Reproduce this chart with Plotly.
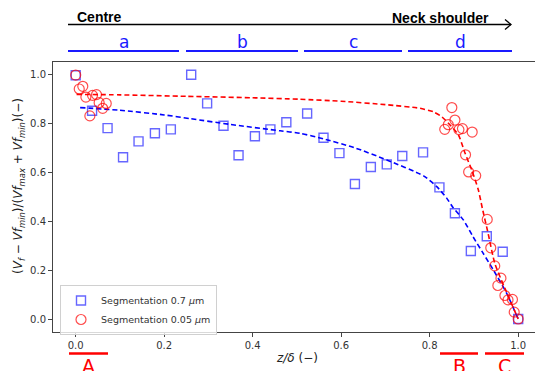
import plotly.graph_objects as go

# Normalised fibre volume fraction along the specimen, two segmentation resolutions
z_coarse = [0.0, 0.037, 0.072, 0.107, 0.142, 0.179, 0.215, 0.261, 0.297, 0.334,
            0.368, 0.405, 0.44, 0.476, 0.523, 0.56, 0.596, 0.631, 0.667, 0.703,
            0.738, 0.785, 0.822, 0.857, 0.893, 0.929, 0.965, 1.0]
vf_coarse = [0.996, 0.851, 0.78, 0.661, 0.726, 0.759, 0.775, 0.998, 0.881, 0.79,
             0.669, 0.747, 0.775, 0.804, 0.84, 0.741, 0.678, 0.552, 0.621, 0.632,
             0.666, 0.681, 0.538, 0.432, 0.278, 0.338, 0.275, 0.0]

z_fine = [0.0, 0.008, 0.016, 0.023, 0.032, 0.038, 0.047, 0.053, 0.061, 0.069,
          0.834, 0.842, 0.85, 0.857, 0.866, 0.874, 0.881, 0.888, 0.896, 0.904,
          0.93, 0.938, 0.947, 0.954, 0.961, 0.97, 0.977, 0.987, 0.991, 1.0]
vf_fine = [0.997, 0.94, 0.951, 0.907, 0.83, 0.914, 0.917, 0.884, 0.861, 0.881,
           0.775, 0.794, 0.864, 0.813, 0.774, 0.778, 0.671, 0.601, 0.764, 0.586,
           0.407, 0.291, 0.217, 0.137, 0.167, 0.096, 0.078, 0.08, 0.028, 0.0]

# Fitted trend curves
z_fit_coarse = [0.01, 0.1, 0.2, 0.258, 0.35, 0.462, 0.507, 0.56, 0.63, 0.703,
                0.786, 0.816, 0.838, 0.853, 0.876, 0.898, 0.921, 0.944, 0.974, 1.0]
vf_fit_coarse = [0.864, 0.853, 0.834, 0.819, 0.795, 0.769, 0.759, 0.736, 0.70, 0.65,
                 0.585, 0.541, 0.495, 0.455, 0.405, 0.336, 0.268, 0.2, 0.105, 0.0]

z_fit_fine = [0.002, 0.1, 0.25, 0.4, 0.507, 0.6, 0.7, 0.778, 0.808, 0.827, 0.846,
              0.865, 0.88, 0.895, 0.91, 0.919, 0.932, 0.947, 0.97, 1.0]
vf_fit_fine = [0.918, 0.916, 0.91, 0.904, 0.898, 0.89, 0.876, 0.861, 0.847, 0.827, 0.793,
               0.752, 0.677, 0.609, 0.527, 0.452, 0.35, 0.228, 0.125, 0.0]

x_ticks = [0.0, 0.2, 0.4, 0.6, 0.8, 1.0]
y_ticks = [0.0, 0.2, 0.4, 0.6, 0.8, 1.0]

W, H = 535, 371
ML, MR, MT, MB = 53, 0, 62, 39
PW, PH = W - ML - MR, H - MT - MB


def px(xp):
    return (xp - ML) / PW


def py(yp):
    return (H - MB - yp) / PH


fig = go.Figure()

fig.add_trace(go.Scatter(x=z_fit_coarse, y=vf_fit_coarse, mode="lines", showlegend=False,
                         line=dict(color="#0000ff", width=1.6, dash="5px,3px", shape="spline",
                                   smoothing=0.6)))
fig.add_trace(go.Scatter(x=z_fit_fine, y=vf_fit_fine, mode="lines", showlegend=False,
                         line=dict(color="#ff0000", width=1.6, dash="5px,3px", shape="spline",
                                   smoothing=0.6)))
fig.add_trace(go.Scatter(x=z_coarse, y=vf_coarse, mode="markers",
                         name="Segmentation 0.7 <i>μ</i>m",
                         marker=dict(symbol="square-open", size=9,
                                     color="rgba(0,0,255,0.6)", line=dict(width=1.4))))
fig.add_trace(go.Scatter(x=z_fine, y=vf_fine, mode="markers",
                         name="Segmentation 0.05 <i>μ</i>m",
                         marker=dict(symbol="circle-open", size=10,
                                     color="rgba(255,0,0,0.7)", line=dict(width=1.2))))

shapes = []
annotations = []

# Centre -> neck shoulder arrow
shapes.append(dict(type="line", xref="paper", yref="paper",
                   x0=px(68), x1=px(511), y0=py(24.5), y1=py(24.5),
                   line=dict(color="black", width=1.4)))
shapes.append(dict(type="path", xref="paper", yref="paper",
                   path=f"M {px(505)},{py(19.5)} L {px(511)},{py(24.5)} L {px(505)},{py(29.5)}",
                   line=dict(color="black", width=1.3)))
annotations.append(dict(text="<b>Centre</b>", x=px(75), y=py(17), xref="paper", yref="paper",
                        xanchor="left", yanchor="middle", showarrow=False,
                        font=dict(family="Liberation Sans", size=14, color="black")))
annotations.append(dict(text="<b>Neck shoulder</b>", x=px(491), y=py(17.5), xref="paper",
                        yref="paper", xanchor="right", yanchor="middle", showarrow=False,
                        font=dict(family="Liberation Sans", size=14, color="black")))

# Zones a-d
zones = [("a", 68, 179), ("b", 186, 298), ("c", 304, 402), ("d", 408, 512)]
for lab, x0, x1 in zones:
    shapes.append(dict(type="line", xref="paper", yref="paper", x0=px(x0), x1=px(x1),
                       y0=py(51), y1=py(51), line=dict(color="#1a1aff", width=2)))
    annotations.append(dict(text=lab, x=px((x0 + x1) / 2), y=py(42), xref="paper", yref="paper",
                            xanchor="center", yanchor="middle", showarrow=False,
                            font=dict(family="DejaVu Sans", size=17, color="#1a1aff")))

# Regions A-C (labels run off the lower edge of the page)
regions = [("A", 69, 108), ("B", 440, 478), ("C", 485, 524)]
for lab, x0, x1 in regions:
    shapes.append(dict(type="line", xref="paper", yref="paper", x0=px(x0), x1=px(x1),
                       y0=py(353.5), y1=py(353.5), line=dict(color="#ff0000", width=2.5)))
    annotations.append(dict(text=lab, x=px((x0 + x1) / 2), y=py(353), xref="paper", yref="paper",
                            xanchor="center", yanchor="top", showarrow=False,
                            font=dict(family="DejaVu Sans", size=19, color="#ff0000")))

# Axis titles
annotations.append(dict(text="<i>z/δ</i> (−)", x=px(297), y=py(358), xref="paper", yref="paper",
                        xanchor="center", yanchor="middle", showarrow=False,
                        font=dict(family="DejaVu Sans", size=12, color="#222")))
annotations.append(dict(
    text="(<i>V<sub>f</sub></i> − <i>Vf<sub>min</sub></i>)/(<i>Vf<sub>max</sub></i> + "
         "<i>Vf<sub>min</sub></i>)(−)",
    x=px(19), y=py(186), xref="paper", yref="paper", xanchor="center", yanchor="middle",
    textangle=-90, showarrow=False, font=dict(family="DejaVu Sans", size=12, color="#222")))

fig.update_layout(
    width=W, height=H,
    margin=dict(l=ML, r=MR, t=MT, b=MB, pad=0),
    paper_bgcolor="white", plot_bgcolor="white",
    font=dict(family="DejaVu Sans", size=10, color="#333"),
    shapes=shapes, annotations=annotations,
    legend=dict(x=px(60), y=py(285), xanchor="left", yanchor="top",
                bgcolor="rgba(255,255,255,0.8)", bordercolor="#d0d0d0", borderwidth=1,
                font=dict(family="DejaVu Sans", size=9.5, color="#333"),
                itemwidth=30, tracegroupgap=0),
    xaxis=dict(range=[(ML - 75.7) / 442.5, (W - 75.7) / 442.5], tickvals=x_ticks,
               ticktext=[f"{v:.1f}" for v in x_ticks], ticks="outside", ticklen=4,
               tickcolor="#444", showline=True, linecolor="#444", linewidth=1, mirror=True,
               showgrid=False, zeroline=False),
    yaxis=dict(range=[(319 - (H - MB)) / 244.7, (319 - MT) / 244.7], tickvals=y_ticks,
               ticktext=[f"{v:.1f}" for v in y_ticks], ticks="outside", ticklen=4,
               tickcolor="#444", showline=True, linecolor="#444", linewidth=1, mirror=False,
               showgrid=False, zeroline=False),
)

fig.write_html("out.html")
